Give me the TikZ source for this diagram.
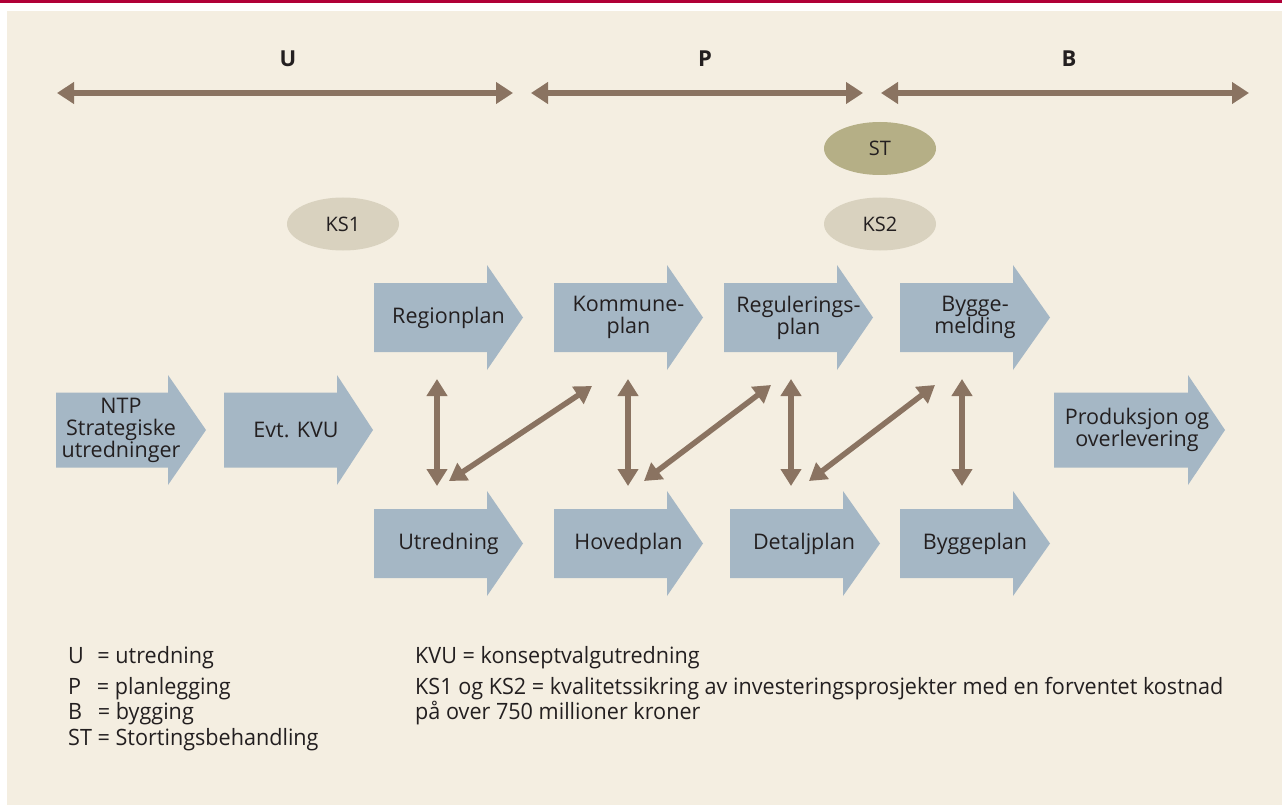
\documentclass[tikz,border=0pt]{standalone}
\usepackage{fontspec}
\setmainfont{Open Sans}
\newfontfamily\condfont[FakeStretch=0.96]{Open Sans}
\usetikzlibrary{arrows.meta,shapes.geometric}
\definecolor{redbar}{HTML}{B00037}
\definecolor{panel}{HTML}{F4EEE1}
\definecolor{boxblue}{HTML}{A5B7C5}
\definecolor{brown}{HTML}{8A7361}
\definecolor{ksfill}{HTML}{D9D2BF}
\definecolor{stfill}{HTML}{B5AF86}
\definecolor{ink}{HTML}{231F20}
\tikzset{
  boxtext/.style={text=ink, font=\fontsize{21.5}{22}\selectfont, align=center, inner sep=0pt},
  phase/.style={text=ink, font=\fontsize{22}{24}\selectfont\bfseries, inner sep=0pt},
  spanarrow/.style={draw=brown, line width=6pt, {Triangle[length=17pt,width=21pt]}-{Triangle[length=17pt,width=21pt]}},
  linkarrow/.style={draw=brown, line width=5.5pt, {Triangle[length=17pt,width=20pt]}-{Triangle[length=17pt,width=20pt]}},
  oval/.style={ellipse, minimum width=112pt, minimum height=53pt, inner sep=0pt, text=ink, font=\fontsize{20}{22}\selectfont},
  legend/.style={text=ink, font=\condfont\fontsize{22.5}{24}\selectfont, anchor=base west, inner sep=0pt}
}
% name, left x, centre y, body width, total width, body half height, head half height, text centre x, text
\newcommand\bigarrow[9]{%
  \fill[boxblue] ({#2},{#3-#6}) -- ({#2+#4},{#3-#6}) -- ({#2+#4},{#3-#7}) -- ({#2+#5},{#3})
     -- ({#2+#4},{#3+#7}) -- ({#2+#4},{#3+#6}) -- ({#2},{#3+#6}) -- cycle;
  \node[boxtext] (#1) at ({#8},{#3}) {#9};
}
\begin{document}
\begin{tikzpicture}[x=1pt,y=-1pt]
\useasboundingbox (0,0) rectangle (1282,805);
\fill[white] (0,0) rectangle (1282,805);
\fill[redbar] (0,0) rectangle (1282,3.5);
\fill[panel] (7,11) rectangle (1282,805);

% phase labels and span arrows
\node[phase] (U) at (288,59) {U};
\node[phase] (P) at (705,59) {P};
\node[phase] (B) at (1069,59) {B};
\coordinate (u1) at (57,93);  \coordinate (u2) at (513,93);
\coordinate (p1) at (531,93); \coordinate (p2) at (863,93);
\coordinate (b1) at (881,93); \coordinate (b2) at (1249,93);
\draw[spanarrow] (u1) -- (u2);
\draw[spanarrow] (p1) -- (p2);
\draw[spanarrow] (b1) -- (b2);

% ovals
\node[oval, fill=stfill] (ST) at (880,148.5) {ST};
\node[oval, fill=ksfill] (KS2) at (880,224) {KS2};
\node[oval, fill=ksfill] (KS1) at (343,224) {KS1};

% top row
\bigarrow{reg}{374}{317.5}{113}{149}{34.5}{52.5}{448.5}{Regionplan}
\bigarrow{kom}{554}{317.5}{113}{149}{34.5}{52.5}{628.5}{Kommune-\\plan}
\bigarrow{rgp}{724}{317.5}{113}{149}{34.5}{52.5}{798.5}{Regulerings-\\plan}
\bigarrow{bym}{900}{317.5}{113}{150}{34.5}{52.5}{975}{Bygge-\\melding}
% middle row
\bigarrow{ntp}{56}{430}{112}{150}{37.5}{55}{121}{NTP\\Strategiske\\utredninger}
\bigarrow{kvu}{224}{430}{113}{149}{37.5}{55}{296}{Evt. KVU}
\bigarrow{prod}{1054}{430}{134}{171}{37.5}{55}{1137}{Produksjon og\\overlevering}
% bottom row
\bigarrow{utr}{374}{543.5}{113}{149}{34.5}{52.5}{448.5}{Utredning}
\bigarrow{hov}{554}{543.5}{113}{149}{34.5}{52.5}{628.5}{Hovedplan}
\bigarrow{det}{730}{543.5}{113}{150}{34.5}{52.5}{804}{Detaljplan}
\bigarrow{byp}{900}{543.5}{113}{150}{34.5}{52.5}{975}{Byggeplan}

% link arrows between rows
\coordinate (v1t) at (437,379); \coordinate (v1b) at (437,486);
\coordinate (v2t) at (628,379); \coordinate (v2b) at (628,486);
\coordinate (v3t) at (791,379); \coordinate (v3b) at (791,486);
\coordinate (v4t) at (962,379); \coordinate (v4b) at (962,486);
\draw[linkarrow] (v1t) -- (v1b);
\draw[linkarrow] (v2t) -- (v2b);
\draw[linkarrow] (v3t) -- (v3b);
\draw[linkarrow] (v4t) -- (v4b);
\coordinate (d1a) at (449,481); \coordinate (d1b) at (592,386);
\coordinate (d2a) at (644,481); \coordinate (d2b) at (771,385);
\coordinate (d3a) at (809,481); \coordinate (d3b) at (935,385);
\draw[linkarrow] (d1a) -- (d1b);
\draw[linkarrow] (d2a) -- (d2b);
\draw[linkarrow] (d3a) -- (d3b);

% legend
\node[legend] (lu) at (68,663) {U\hspace{0.6em}= utredning};
\node[legend] (lp) at (68,694) {P\hspace{0.7em}= planlegging};
\node[legend] (lb) at (68,719) {B\hspace{0.7em}= bygging};
\node[legend] (lst) at (68,745) {ST = Stortingsbehandling};
\node[legend] (lkvu) at (415,663) {KVU = konseptvalgutredning};
\node[legend] (lks) at (415,694) {KS1 og KS2 = kvalitetssikring av investeringsprosjekter med en forventet kostnad};
\node[legend] (lks2) at (415,719) {på over 750 millioner kroner};
\end{tikzpicture}
\end{document}
